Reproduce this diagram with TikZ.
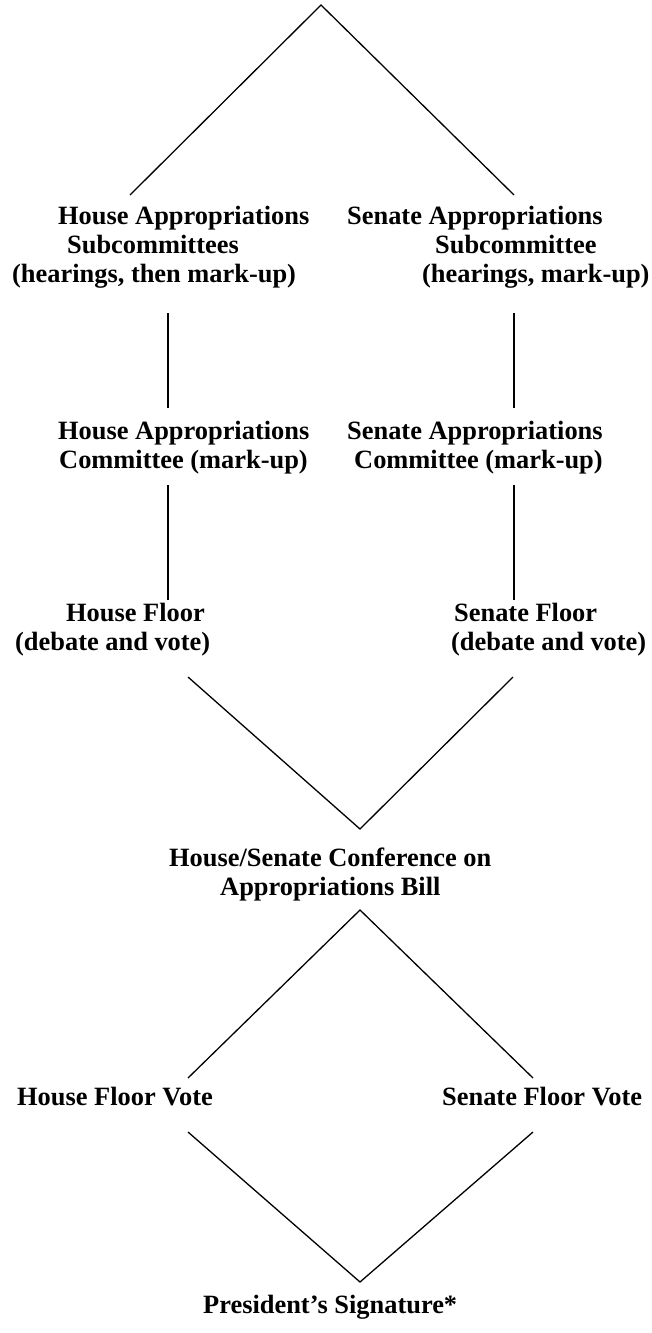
\documentclass[tikz,border=0pt]{standalone}
\usepackage{fontspec}
\setmainfont{Liberation Serif}
\begin{document}
\begin{tikzpicture}[
            x=1pt, y=-1pt,
            lbl/.style={font=\bfseries\fontsize{26.4}{29}\selectfont, inner sep=0pt, align=left, anchor=base west},
            link/.style={line width=1.3pt, black}
        ]
        \useasboundingbox (0,0) rectangle (652,1333);

        % Subcommittees (anchored on last line)
        \node[lbl] (hsub) at (12,282) {\hspace*{46pt}House Appropriations\\\hspace*{55pt}Subcommittees\\(hearings, then mark-up)};
        \node[lbl] (ssub) at (347,282) {Senate Appropriations\\\hspace*{88pt}Subcommittee\\\hspace*{75pt}(hearings, mark-up)};

        % Full committees
        \node[lbl] (hcom) at (58,468) {House Appropriations\\\hspace*{1pt}Committee (mark-up)};
        \node[lbl] (scom) at (347,468) {Senate Appropriations\\\hspace*{7pt}Committee (mark-up)};

        % Floor
        \node[lbl] (hfloor) at (15,650) {\hspace*{51pt}House Floor\\(debate and vote)};
        \node[lbl] (sfloor) at (451,650) {\hspace*{3pt}Senate Floor\\(debate and vote)};

        % Conference and final votes
        \node[lbl] (conf) at (169,895) {House/Senate Conference on\\\hspace*{51pt}Appropriations Bill};
        \node[lbl] (hvote) at (17,1105) {House Floor Vote};
        \node[lbl] (svote) at (442,1105) {Senate Floor Vote};
        \node[lbl] (pres) at (203,1313) {President’s Signature*};

        % Line ends
        \coordinate (top) at (321,5);
        \coordinate (hsubT) at (130,195);  \coordinate (ssubT) at (514,195);
        \coordinate (hsubB) at (168,313);  \coordinate (ssubB) at (514,313);
        \coordinate (hcomT) at (168,408);  \coordinate (scomT) at (514,408);
        \coordinate (hcomB) at (168,485);  \coordinate (scomB) at (514,485);
        \coordinate (hfloorT) at (168,600); \coordinate (sfloorT) at (514,600);
        \coordinate (hfloorB) at (188,677); \coordinate (sfloorB) at (513,677);
        \coordinate (confT) at (360,829);  \coordinate (confB) at (360,910);
        \coordinate (hvoteT) at (188,1078); \coordinate (svoteT) at (533,1078);
        \coordinate (hvoteB) at (188,1132); \coordinate (svoteB) at (533,1132);
        \coordinate (presT) at (360,1282);

        % Connectors
        \draw[link] (hsubT) -- (top) -- (ssubT);
        \draw[link] (hsubB) -- (hcomT); \draw[link] (ssubB) -- (scomT);
        \draw[link] (hcomB) -- (hfloorT); \draw[link] (scomB) -- (sfloorT);
        \draw[link] (hfloorB) -- (confT) -- (sfloorB);
        \draw[link] (hvoteT) -- (confB) -- (svoteT);
        \draw[link] (hvoteB) -- (presT) -- (svoteB);

    \end{tikzpicture}
\end{document}
